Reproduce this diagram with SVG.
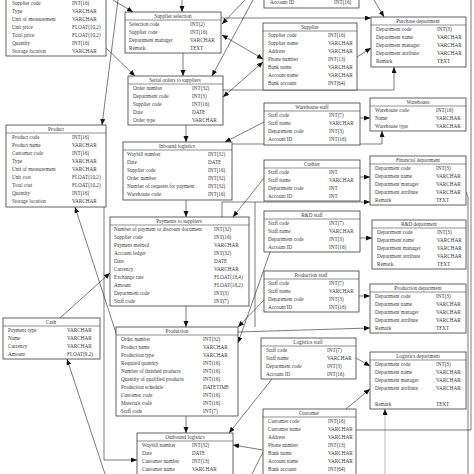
<svg xmlns="http://www.w3.org/2000/svg" width="474" height="474" viewBox="0 0 474 474">
<style>
.bx{fill:#fff;stroke:#3a3a3a;stroke-width:0.8}
.sp{stroke:#444;stroke-width:0.6}
text{font-family:"Liberation Serif","Times New Roman",serif;font-size:5.2px;fill:#383838}
.h{text-anchor:middle}
.c{fill:none;stroke:#222;stroke-width:0.6}
.g{fill:none;stroke:#888;stroke-width:0.6}
</style>
<defs>
<marker id="a" markerUnits="userSpaceOnUse" markerWidth="7" markerHeight="6" refX="6" refY="2.5" orient="auto-start-reverse"><path d="M0,0 L6,2.5 L0,5 z" fill="#111"/></marker>
</defs>
<rect width="474" height="474" fill="#fff"/>

<g id="connectors">
<path class="c" d="M182,0 V12" marker-end="url(#a)"/>
<path class="c" d="M113,0 L133,12" marker-end="url(#a)"/>
<path class="c" d="M106,48 L135,76" marker-end="url(#a)"/>
<path class="c" d="M118,0 L102,125" marker-end="url(#a)"/>
<path class="c" d="M245,0 L222,24" marker-end="url(#a)"/>
<path class="c" d="M253,0 L212,76" marker-end="url(#a)"/>
<path class="c" d="M222,35 L263,59" marker-start="url(#a)" marker-end="url(#a)"/>
<path class="c" d="M223,97 L263,62" marker-start="url(#a)" marker-end="url(#a)"/>
<path class="c" d="M221,18 H371" marker-end="url(#a)"/>
<path class="c" d="M374,0 L384,17" marker-end="url(#a)"/>
<path class="c" d="M357,57 L371,48" marker-end="url(#a)"/>
<path class="c" d="M223,90 H394 V67" marker-end="url(#a)"/>
<path class="c" d="M183,53 V76" marker-end="url(#a)"/>
<path class="c" d="M264,122 L225,142" marker-end="url(#a)"/>
<path class="c" d="M186,125 V142" marker-end="url(#a)"/>
<path class="c" d="M360,118 H370" marker-end="url(#a)"/>
<path class="c" d="M232,144 H382 V131" marker-end="url(#a)"/>
<path class="c" d="M186,200 V217" marker-end="url(#a)"/>
<path class="c" d="M264,178 L233,217" marker-end="url(#a)"/>
<path class="c" d="M360,177 H370" marker-end="url(#a)"/>
<path class="c" d="M222,217 V202 H370" marker-end="url(#a)"/>
<path class="c" d="M255,327 V202"/>
<path class="c" d="M360,238 H372" marker-end="url(#a)"/>
<path class="c" d="M359,296 H370" marker-end="url(#a)"/>
<path class="c" d="M264,300 L238,327" marker-end="url(#a)"/>
<path class="c" d="M270,252 L238,343" marker-end="url(#a)"/>
<path class="c" d="M186,306 V327" marker-end="url(#a)"/>
<path class="c" d="M60,318 L110,273" marker-end="url(#a)"/>
<path class="c" d="M117,336 L75,207" marker-end="url(#a)"/>
<path class="c" d="M104,207 V460 H137" marker-end="url(#a)"/>
<path class="c" d="M238,332 L370,328" marker-end="url(#a)"/>
<path class="c" d="M105,474 L67,359" marker-end="url(#a)"/>
<path class="c" d="M186,416 V433" marker-end="url(#a)"/>
<path class="c" d="M272,379 L229,433" marker-end="url(#a)"/>
<path class="c" d="M263,450 L233,445" marker-end="url(#a)"/>
<path class="c" d="M263,452 L252,474"/>
<path class="c" d="M356,358 L370,366" marker-end="url(#a)"/>
<path class="c" d="M346,409 L370,389" marker-end="url(#a)"/>
<path class="g" d="M385,474 V409" marker-end="url(#a)"/>
<path class="c" d="M356,430 H471 V0"/>
<path class="c" d="M468,474 V197 L466,192"/>
</g>

<g id="n-top-left">
<rect class="bx" x="6" y="-5" width="100" height="61"/>
<text x="12" y="5">Supplier code</text><text x="72" y="5">INT(16)</text>
<text x="12" y="13">Type</text><text x="72" y="13">VARCHAR</text>
<text x="12" y="21">Unit of measurement</text><text x="72" y="21">VARCHAR</text>
<text x="12" y="29">Unit price</text><text x="72" y="29">FLOAT(10,2)</text>
<text x="12" y="37">Total price</text><text x="72" y="37">FLOAT(10,2)</text>
<text x="12" y="45">Quantity</text><text x="72" y="45">INT(16)</text>
<text x="12" y="53">Storage location</text><text x="72" y="53">VARCHAR</text>
</g>

<g id="n-top-center">
<rect class="bx" x="264" y="-20" width="95" height="28"/>
<text x="270" y="4">Account ID</text><text x="334" y="4">INT(16)</text>
</g>

<g id="n-supplier-selection">
<rect class="bx" x="125" y="12" width="96" height="41"/>
<line class="sp" x1="125" y1="20" x2="221" y2="20"/>
<text class="h" x="173" y="18">Supplier selection</text>
<text x="129" y="26">Selection code</text><text x="190" y="26">INT(2)</text>
<text x="129" y="34">Supplier code</text><text x="190" y="34">INT(16)</text>
<text x="129" y="42">Department manager</text><text x="190" y="42">VARCHAR</text>
<text x="129" y="50">Remark</text><text x="190" y="50">TEXT</text>
</g>

<g id="n-supplier">
<rect class="bx" x="263" y="23" width="94" height="67"/>
<line class="sp" x1="263" y1="31" x2="357" y2="31"/>
<text class="h" x="310" y="29">Supplier</text>
<text x="268" y="37">Supplier code</text><text x="328" y="37">INT(16)</text>
<text x="268" y="45">Supplier name</text><text x="328" y="45">VARCHAR</text>
<text x="268" y="53">Address</text><text x="328" y="53">VARCHAR</text>
<text x="268" y="61">Phone number</text><text x="328" y="61">INT(13)</text>
<text x="268" y="69">Bank name</text><text x="328" y="69">VARCHAR</text>
<text x="268" y="77">Account name</text><text x="328" y="77">VARCHAR</text>
<text x="268" y="85">Bank account</text><text x="328" y="85">INT(64)</text>
</g>

<g id="n-purchase-department">
<rect class="bx" x="371" y="17" width="95" height="50"/>
<line class="sp" x1="371" y1="25" x2="466" y2="25"/>
<text class="h" x="418" y="23">Purchase department</text>
<text x="376" y="31">Department code</text><text x="437" y="31">INT(3)</text>
<text x="376" y="39">Department name</text><text x="437" y="39">VARCHAR</text>
<text x="376" y="47">Department manager</text><text x="437" y="47">VARCHAR</text>
<text x="376" y="55">Department attribute</text><text x="437" y="55">VARCHAR</text>
<text x="376" y="63">Remark</text><text x="437" y="63">TEXT</text>
</g>

<g id="n-serial-orders">
<rect class="bx" x="128" y="76" width="95" height="49"/>
<line class="sp" x1="128" y1="84" x2="223" y2="84"/>
<text class="h" x="175" y="82">Serial orders to suppliers</text>
<text x="133" y="90">Order number</text><text x="192" y="90">INT(32)</text>
<text x="133" y="98">Department code</text><text x="192" y="98">INT(3)</text>
<text x="133" y="106">Supplier code</text><text x="192" y="106">INT(16)</text>
<text x="133" y="114">Date</text><text x="192" y="114">DATE</text>
<text x="133" y="122">Order type</text><text x="192" y="122">VARCHAR</text>
</g>

<g id="n-warehouse-staff">
<rect class="bx" x="264" y="103" width="96" height="42"/>
<line class="sp" x1="264" y1="111" x2="360" y2="111"/>
<text class="h" x="312" y="109">Warehouse staff</text>
<text x="268" y="117">Staff code</text><text x="329" y="117">INT(7)</text>
<text x="268" y="125">Staff name</text><text x="329" y="125">VARCHAR</text>
<text x="268" y="133">Department code</text><text x="329" y="133">INT(3)</text>
<text x="268" y="141">Account ID</text><text x="329" y="141">INT(16)</text>
</g>

<g id="n-warehouse">
<rect class="bx" x="370" y="98" width="96" height="33"/>
<line class="sp" x1="370" y1="106" x2="466" y2="106"/>
<text class="h" x="418" y="104">Warehouse</text>
<text x="375" y="112">Warehouse code</text><text x="436" y="112">INT(16)</text>
<text x="375" y="120">Name</text><text x="436" y="120">VARCHAR</text>
<text x="375" y="128">Warehouse type</text><text x="436" y="128">VARCHAR</text>
</g>

<g id="n-product">
<rect class="bx" x="6" y="125" width="100" height="82"/>
<line class="sp" x1="6" y1="133" x2="106" y2="133"/>
<text class="h" x="56" y="131">Product</text>
<text x="12" y="139">Product code</text><text x="72" y="139">INT(16)</text>
<text x="12" y="147">Product name</text><text x="72" y="147">VARCHAR</text>
<text x="12" y="155">Customer code</text><text x="72" y="155">INT(16)</text>
<text x="12" y="163">Type</text><text x="72" y="163">VARCHAR</text>
<text x="12" y="171">Unit of measurement</text><text x="72" y="171">VARCHAR</text>
<text x="12" y="179">Unit cost</text><text x="72" y="179">FLOAT(10,2)</text>
<text x="12" y="187">Total cost</text><text x="72" y="187">FLOAT(10,2)</text>
<text x="12" y="195">Quantity</text><text x="72" y="195">INT(16)</text>
<text x="12" y="203">Storage location</text><text x="72" y="203">VARCHAR</text>
</g>

<g id="n-inbound-logistics">
<rect class="bx" x="123" y="142" width="109" height="58"/>
<line class="sp" x1="123" y1="150" x2="232" y2="150"/>
<text class="h" x="177" y="148">Inbound logistics</text>
<text x="127" y="156">Waybill number</text><text x="208" y="156">INT(32)</text>
<text x="127" y="164">Date</text><text x="208" y="164">DATE</text>
<text x="127" y="172">Supplier code</text><text x="208" y="172">INT(16)</text>
<text x="127" y="180">Order number</text><text x="208" y="180">INT(32)</text>
<text x="127" y="188">Number of requests for payment</text><text x="208" y="188">INT(32)</text>
<text x="127" y="196">Warehouse code</text><text x="208" y="196">INT(16)</text>
</g>

<g id="n-cashier">
<rect class="bx" x="264" y="160" width="96" height="41"/>
<line class="sp" x1="264" y1="168" x2="360" y2="168"/>
<text class="h" x="312" y="166">Cashier</text>
<text x="268" y="174">Staff code</text><text x="329" y="174">INT</text>
<text x="268" y="182">Staff name</text><text x="329" y="182">VARCHAR</text>
<text x="268" y="190">Department code</text><text x="329" y="190">INT</text>
<text x="268" y="198">Account ID</text><text x="329" y="198">INT</text>
</g>

<g id="n-financial-department">
<rect class="bx" x="370" y="156" width="96" height="49"/>
<line class="sp" x1="370" y1="164" x2="466" y2="164"/>
<text class="h" x="418" y="162">Financial department</text>
<text x="375" y="170">Department code</text><text x="436" y="170">INT(3)</text>
<text x="375" y="178">Department name</text><text x="436" y="178">VARCHAR</text>
<text x="375" y="186">Department manager</text><text x="436" y="186">VARCHAR</text>
<text x="375" y="194">Department attribute</text><text x="436" y="194">VARCHAR</text>
<text x="375" y="202">Remark</text><text x="436" y="202">TEXT</text>
</g>

<g id="n-payments">
<rect class="bx" x="110" y="217" width="139" height="89"/>
<line class="sp" x1="110" y1="225" x2="249" y2="225"/>
<text class="h" x="179" y="223">Payments to suppliers</text>
<text x="114" y="231">Number of payment or discount document</text><text x="214" y="231">INT(32)</text>
<text x="114" y="239">Supplier code</text><text x="214" y="239">INT(16)</text>
<text x="114" y="247">Payment method</text><text x="214" y="247">VARCHAR</text>
<text x="114" y="255">Account ledger</text><text x="214" y="255">INT(32)</text>
<text x="114" y="263">Date</text><text x="214" y="263">DATE</text>
<text x="114" y="271">Currency</text><text x="214" y="271">VARCHAR</text>
<text x="114" y="279">Exchange rate</text><text x="214" y="279">FLOAT(18,4)</text>
<text x="114" y="287">Amount</text><text x="214" y="287">FLOAT(18,2)</text>
<text x="114" y="295">Department code</text><text x="214" y="295">INT(3)</text>
<text x="114" y="303">Staff code</text><text x="214" y="303">INT(7)</text>
</g>

<g id="n-rd-staff">
<rect class="bx" x="264" y="211" width="96" height="41"/>
<line class="sp" x1="264" y1="219" x2="360" y2="219"/>
<text class="h" x="312" y="217">R&amp;D staff</text>
<text x="268" y="225">Staff code</text><text x="329" y="225">INT(7)</text>
<text x="268" y="233">Staff name</text><text x="329" y="233">VARCHAR</text>
<text x="268" y="241">Department code</text><text x="329" y="241">INT(3)</text>
<text x="268" y="249">Account ID</text><text x="329" y="249">INT(16)</text>
</g>

<g id="n-rd-department">
<rect class="bx" x="372" y="220" width="94" height="49"/>
<line class="sp" x1="372" y1="228" x2="466" y2="228"/>
<text class="h" x="419" y="226">R&amp;D department</text>
<text x="377" y="234">Department code</text><text x="437" y="234">INT(3)</text>
<text x="377" y="242">Department name</text><text x="437" y="242">VARCHAR</text>
<text x="377" y="250">Department manager</text><text x="437" y="250">VARCHAR</text>
<text x="377" y="258">Department attribute</text><text x="437" y="258">VARCHAR</text>
<text x="377" y="266">Remark</text><text x="437" y="266">TEXT</text>
</g>

<g id="n-production-staff">
<rect class="bx" x="264" y="271" width="95" height="41"/>
<line class="sp" x1="264" y1="279" x2="359" y2="279"/>
<text class="h" x="311" y="277">Production staff</text>
<text x="268" y="285">Staff code</text><text x="329" y="285">INT(7)</text>
<text x="268" y="293">Staff name</text><text x="329" y="293">VARCHAR</text>
<text x="268" y="301">Department code</text><text x="329" y="301">INT(3)</text>
<text x="268" y="309">Account ID</text><text x="329" y="309">INT(16)</text>
</g>

<g id="n-production-department">
<rect class="bx" x="370" y="284" width="96" height="49"/>
<line class="sp" x1="370" y1="292" x2="466" y2="292"/>
<text class="h" x="418" y="290">Production department</text>
<text x="375" y="298">Department code</text><text x="436" y="298">INT(3)</text>
<text x="375" y="306">Department name</text><text x="436" y="306">VARCHAR</text>
<text x="375" y="314">Department manager</text><text x="436" y="314">VARCHAR</text>
<text x="375" y="322">Department attribute</text><text x="436" y="322">VARCHAR</text>
<text x="375" y="330">Remark</text><text x="436" y="330">TEXT</text>
</g>

<g id="n-cash">
<rect class="bx" x="3" y="318" width="97" height="41"/>
<line class="sp" x1="3" y1="326" x2="100" y2="326"/>
<text class="h" x="51" y="324">Cash</text>
<text x="8" y="332">Payment type</text><text x="67" y="332">VARCHAR</text>
<text x="8" y="340">Name</text><text x="67" y="340">VARCHAR</text>
<text x="8" y="348">Currency</text><text x="67" y="348">VARCHAR</text>
<text x="8" y="356">Amount</text><text x="67" y="356">FLOAT(9,2)</text>
</g>

<g id="n-production">
<rect class="bx" x="116" y="327" width="122" height="89"/>
<line class="sp" x1="116" y1="335" x2="238" y2="335"/>
<text class="h" x="177" y="333">Production</text>
<text x="121" y="341">Order number</text><text x="203" y="341">INT(32)</text>
<text x="121" y="349">Product name</text><text x="203" y="349">VARCHAR</text>
<text x="121" y="357">Production type</text><text x="203" y="357">VARCHAR</text>
<text x="121" y="365">Required quantity</text><text x="203" y="365">INT(16)</text>
<text x="121" y="373">Number of finished products</text><text x="203" y="373">INT(16)</text>
<text x="121" y="381">Quantity of qualified products</text><text x="203" y="381">INT(16)</text>
<text x="121" y="389">Production schedule</text><text x="203" y="389">DATETIME</text>
<text x="121" y="397">Customer code</text><text x="203" y="397">INT(16)</text>
<text x="121" y="405">Materials code</text><text x="203" y="405">INT(16)</text>
<text x="121" y="413">Staff code</text><text x="203" y="413">INT(7)</text>
</g>

<g id="n-logistics-staff">
<rect class="bx" x="261" y="338" width="95" height="41"/>
<line class="sp" x1="261" y1="346" x2="356" y2="346"/>
<text class="h" x="308" y="344">Logistics staff</text>
<text x="266" y="352">Staff code</text><text x="327" y="352">INT(7)</text>
<text x="266" y="360">Staff name</text><text x="327" y="360">VARCHAR</text>
<text x="266" y="368">Department code</text><text x="327" y="368">INT(3)</text>
<text x="266" y="376">Account ID</text><text x="327" y="376">INT(16)</text>
</g>

<g id="n-logistics-department">
<rect class="bx" x="370" y="352" width="96" height="57"/>
<line class="sp" x1="370" y1="360" x2="466" y2="360"/>
<text class="h" x="418" y="358">Logistics department</text>
<text x="375" y="366">Department code</text><text x="436" y="366">INT(3)</text>
<text x="375" y="374">Department name</text><text x="436" y="374">VARCHAR</text>
<text x="375" y="382">Department manager</text><text x="436" y="382">VARCHAR</text>
<text x="375" y="390">Department attribute</text><text x="436" y="390">VARCHAR</text>
<text x="375" y="406">Remark</text><text x="436" y="406">TEXT</text>
</g>

<g id="n-customer">
<rect class="bx" x="263" y="409" width="93" height="67"/>
<line class="sp" x1="263" y1="417" x2="356" y2="417"/>
<text class="h" x="309" y="415">Customer</text>
<text x="268" y="423">Customer code</text><text x="328" y="423">INT(16)</text>
<text x="268" y="431">Customer name</text><text x="328" y="431">VARCHAR</text>
<text x="268" y="439">Address</text><text x="328" y="439">VARCHAR</text>
<text x="268" y="447">Phone number</text><text x="328" y="447">INT(13)</text>
<text x="268" y="455">Bank name</text><text x="328" y="455">VARCHAR</text>
<text x="268" y="463">Account name</text><text x="328" y="463">VARCHAR</text>
<text x="268" y="471">Bank account</text><text x="328" y="471">INT(64)</text>
</g>

<g id="n-outbound-logistics">
<rect class="bx" x="137" y="433" width="96" height="60"/>
<line class="sp" x1="137" y1="441" x2="233" y2="441"/>
<text class="h" x="185" y="439">Outbound logistics</text>
<text x="142" y="447">Waybill number</text><text x="192" y="447">INT(32)</text>
<text x="142" y="455">Date</text><text x="192" y="455">DATE</text>
<text x="142" y="463">Customer number</text><text x="192" y="463">INT(13)</text>
<text x="142" y="471">Customer name</text><text x="192" y="471">VARCHAR</text>
</g>
</svg>
